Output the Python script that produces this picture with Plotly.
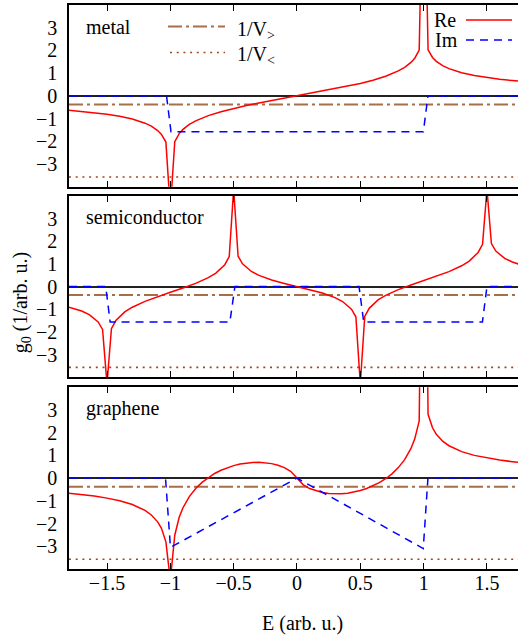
import plotly.graph_objects as go

# ---------------------------------------------------------------
# Local Green's function g0(E) for three model band structures
# ---------------------------------------------------------------

# metal: flat band between -1 and 1
E_metal = [-1.8, -1.7, -1.6, -1.5, -1.4, -1.3, -1.2, -1.15, -1.1, -1.07, -1.035, -1.0,
           -0.965, -0.93, -0.9, -0.85, -0.8, -0.7, -0.6, -0.5, -0.4, -0.3, -0.2, -0.1,
           0.0, 0.1, 0.2, 0.3, 0.4, 0.5, 0.6, 0.7, 0.8, 0.85, 0.9, 0.93, 0.965, 1.0,
           1.035, 1.07, 1.1, 1.15, 1.2, 1.3, 1.4, 1.5, 1.6, 1.7, 1.75]
re_metal = [-0.626, -0.675, -0.733, -0.805, -0.896, -1.018, -1.199, -1.331, -1.522, -1.693,
            -2.031, -5.0, -2.014, -1.658, -1.472, -1.256, -1.099, -0.867, -0.693, -0.549,
            -0.424, -0.310, -0.203, -0.100, 0.0, 0.100, 0.203, 0.310, 0.424, 0.549, 0.693,
            0.867, 1.099, 1.256, 1.472, 1.658, 2.014, 12.0, 2.031, 1.693, 1.522, 1.331,
            1.199, 1.018, 0.896, 0.805, 0.733, 0.675, 0.650]
E_im_metal = [-1.8, -1.03, -0.995, 0.998, 1.034, 1.75]
im_metal = [0.0, 0.0, -1.571, -1.571, 0.0, 0.0]

# semiconductor: two flat bands separated by a gap
E_semi = [-1.8, -1.75, -1.7, -1.64, -1.57, -1.535, -1.5, -1.465, -1.43, -1.36, -1.3, -1.2,
          -1.1, -1.0, -0.9, -0.8, -0.7, -0.64, -0.57, -0.535, -0.5, -0.465, -0.43, -0.36,
          -0.3, -0.2, -0.1, 0.0, 0.1, 0.2, 0.3, 0.36, 0.43, 0.465, 0.5, 0.535, 0.57, 0.64,
          0.7, 0.8, 0.9, 1.0, 1.1, 1.2, 1.3, 1.36, 1.43, 1.465, 1.5, 1.535, 1.57, 1.64,
          1.7, 1.75]
re_semi = [-0.913, -0.989, -1.083, -1.241, -1.561, -1.893, -4.3, -1.864, -1.502, -1.123,
           -0.914, -0.655, -0.446, -0.255, -0.067, 0.139, 0.390, 0.593, 0.963, 1.320, 4.3,
           1.337, 0.999, 0.663, 0.491, 0.289, 0.136, 0.0, -0.136, -0.289, -0.491, -0.663,
           -0.999, -1.337, -4.3, -1.320, -0.963, -0.593, -0.390, -0.139, 0.067, 0.255,
           0.446, 0.655, 0.914, 1.123, 1.502, 1.864, 4.3, 1.893, 1.561, 1.241, 1.083, 0.989]
E_im_semi = [-1.8, -1.51, -1.475, -0.53, -0.49, 0.49, 0.527, 1.464, 1.50, 1.75]
im_semi = [0.0, 0.0, -1.571, -1.571, 0.0, 0.0, -1.571, -1.571, 0.0, 0.0]

# graphene: linear density of states
E_gr = [-1.8, -1.7, -1.6, -1.5, -1.4, -1.3, -1.2, -1.15, -1.1, -1.07, -1.035, -1.0, -0.965,
        -0.93, -0.9, -0.85, -0.8, -0.75, -0.7, -0.65, -0.6, -0.55, -0.5, -0.45, -0.4, -0.35,
        -0.3, -0.25, -0.2, -0.15, -0.1, -0.05, 0.0, 0.05, 0.1, 0.15, 0.2, 0.25, 0.3, 0.35,
        0.4, 0.45, 0.5, 0.55, 0.6, 0.65, 0.7, 0.75, 0.8, 0.85, 0.9, 0.93, 0.965, 1.0, 1.035,
        1.07, 1.1, 1.15, 1.2, 1.3, 1.4, 1.5, 1.6, 1.7, 1.75]
re_gr = [-0.665, -0.722, -0.793, -0.882, -0.999, -1.165, -1.423, -1.623, -1.926, -2.212,
         -2.806, -4.5, -2.514, -1.727, -1.305, -0.813, -0.460, -0.188, 0.028, 0.203, 0.345,
         0.459, 0.549, 0.617, 0.663, 0.689, 0.694, 0.677, 0.636, 0.566, 0.460, 0.299, 0.0,
         -0.299, -0.460, -0.566, -0.636, -0.677, -0.694, -0.689, -0.663, -0.617, -0.549,
         -0.459, -0.345, -0.203, -0.028, 0.188, 0.460, 0.813, 1.305, 1.727, 2.514, 20.0,
         2.806, 2.212, 1.926, 1.623, 1.423, 1.165, 0.999, 0.882, 0.793, 0.722, 0.692]
E_im_gr = [-1.8, -1.038, -0.999, 0.0, 0.997, 1.034, 1.75]
im_gr = [0.0, 0.0, -3.05, 0.0, -3.1, 0.0, 0.0]

# inverse impurity potentials (horizontal reference levels)
inv_V_gt = -0.38
inv_V_lt = -3.57
E_span = [-1.8, 1.75]

panel_names = ["metal", "semiconductor", "graphene"]
panels = [
    (E_metal, re_metal, E_im_metal, im_metal),
    (E_semi, re_semi, E_im_semi, im_semi),
    (E_gr, re_gr, E_im_gr, im_gr),
]

x_ticks = [-1.5, -1, -0.5, 0, 0.5, 1, 1.5]
x_ticktext = ["−1.5", "−1", "−0.5", "0", "0.5", "1", "1.5"]
y_ticks = [-3, -2, -1, 0, 1, 2, 3]

# ---------------------------------------------------------------
# page geometry (pixels)
# ---------------------------------------------------------------
W, H = 518, 635
ML, MR, MT, MB = 69, 0, 4.5, 66
PW = W - ML - MR
PH = H - MT - MB
panel_px = [(4.5, 186.5), (195.5, 377.0), (387.0, 569.0)]
X_RANGE = [-1.8, 1.745]


def px_x(x):
    return (x - ML) / PW


def px_y(y):
    return (H - MB - y) / PH


FONT = "Liberation Serif, Times New Roman, Times, serif"
RED = "#ff0000"
BLUE = "#0000ff"
BROWN_DD = "#a86e48"
BROWN_DOT = "#a0471c"
DASH_DD = "14px,4px,3px,4px"
DASH_DOT = "2px,4.7px"
DASH_IM = "8px,6px"

fig = go.Figure()

for i, (Ere, yre, Eim, yim) in enumerate(panels):
    xa = "x" if i == 0 else f"x{i + 1}"
    ya = "y" if i == 0 else f"y{i + 1}"
    fig.add_trace(go.Scatter(x=E_span, y=[inv_V_gt, inv_V_gt], mode="lines",
                             line=dict(color=BROWN_DD, width=2, dash=DASH_DD),
                             xaxis=xa, yaxis=ya, showlegend=False, hoverinfo="skip"))
    fig.add_trace(go.Scatter(x=E_span, y=[inv_V_lt, inv_V_lt], mode="lines",
                             line=dict(color=BROWN_DOT, width=1.6, dash=DASH_DOT),
                             xaxis=xa, yaxis=ya, showlegend=False, hoverinfo="skip"))
    fig.add_trace(go.Scatter(x=Ere, y=yre, mode="lines",
                             line=dict(color=RED, width=1.5),
                             xaxis=xa, yaxis=ya, showlegend=False))
    fig.add_trace(go.Scatter(x=Eim, y=yim, mode="lines",
                             line=dict(color=BLUE, width=1.5, dash=DASH_IM),
                             xaxis=xa, yaxis=ya, showlegend=False))

# invisible carrier trace for the energy tick-label axis
fig.add_trace(go.Scatter(x=E_span, y=[0, 0], mode="lines", line=dict(width=0),
                         opacity=0, xaxis="x4", yaxis="y3", showlegend=False,
                         hoverinfo="skip"))

layout = dict(
    width=W, height=H,
    margin=dict(l=ML, r=MR, t=MT, b=MB, pad=0),
    paper_bgcolor="white", plot_bgcolor="white",
    font=dict(family=FONT, size=20, color="black"),
    showlegend=False,
)

for i, (top, bot) in enumerate(panel_px):
    xk = "xaxis" if i == 0 else f"xaxis{i + 1}"
    yk = "yaxis" if i == 0 else f"yaxis{i + 1}"
    ya = "y" if i == 0 else f"y{i + 1}"
    xa = "x" if i == 0 else f"x{i + 1}"
    layout[xk] = dict(
        domain=[0, 1], anchor=ya, range=X_RANGE,
        tickvals=x_ticks, showticklabels=False, ticks="inside", ticklen=6, tickwidth=1.2,
        tickcolor="black", showline=True, linecolor="black", linewidth=1.5,
        mirror="ticks", showgrid=False, zeroline=False,
    )
    layout[yk] = dict(
        domain=[max(0.0, px_y(bot)), px_y(top)], anchor=xa, range=[-4, 4],
        tickvals=y_ticks, ticks="", showline=True, linecolor="black", linewidth=1.5,
        mirror=False, showgrid=False, zeroline=True, zerolinecolor="#222222",
        zerolinewidth=1.5, tickfont=dict(family=FONT, size=20), ticklabelstandoff=6,
    )

# energy tick labels on a free axis at the bottom frame (no inward-tick offset)
layout["xaxis4"] = dict(
    overlaying="x3", anchor="free", position=0.0, range=X_RANGE,
    tickvals=x_ticks, ticktext=x_ticktext, ticks="", showline=False, showgrid=False,
    zeroline=False, tickfont=dict(family=FONT, size=20), ticklabelstandoff=0,
)

annotations = []
label_y = [27, 217, 408]
for name, yy in zip(panel_names, label_y):
    annotations.append(dict(text=name, x=px_x(84), y=px_y(yy), xref="paper", yref="paper",
                            xanchor="left", yanchor="middle", showarrow=False,
                            font=dict(family=FONT, size=20)))

annotations += [
    dict(text="1/V<sub>&gt;</sub>", x=px_x(235), y=px_y(30), xref="paper", yref="paper",
         xanchor="left", yanchor="middle", showarrow=False, font=dict(family=FONT, size=20)),
    dict(text="1/V<sub>&lt;</sub>", x=px_x(235), y=px_y(55), xref="paper", yref="paper",
         xanchor="left", yanchor="middle", showarrow=False, font=dict(family=FONT, size=20)),
    dict(text="Re", x=px_x(432), y=px_y(20), xref="paper", yref="paper",
         xanchor="left", yanchor="middle", showarrow=False, font=dict(family=FONT, size=20)),
    dict(text="Im", x=px_x(433), y=px_y(40), xref="paper", yref="paper",
         xanchor="left", yanchor="middle", showarrow=False, font=dict(family=FONT, size=20)),
    dict(text="E (arb. u.)", x=px_x(302), y=px_y(624), xref="paper", yref="paper",
         xanchor="center", yanchor="middle", showarrow=False, font=dict(family=FONT, size=20)),
    dict(text="g<sub>0</sub> (1/arb. u.)", x=px_x(21), y=px_y(303), xref="paper",
         yref="paper", xanchor="center", yanchor="middle", textangle=-90, showarrow=False,
         font=dict(family=FONT, size=20)),
]
layout["annotations"] = annotations

# key samples
shapes = [
    dict(type="line", xref="paper", yref="paper", x0=px_x(168), x1=px_x(225),
         y0=px_y(26), y1=px_y(26), line=dict(color=BROWN_DD, width=2, dash=DASH_DD)),
    dict(type="line", xref="paper", yref="paper", x0=px_x(170), x1=px_x(225),
         y0=px_y(52), y1=px_y(52), line=dict(color=BROWN_DOT, width=1.6, dash=DASH_DOT)),
    dict(type="line", xref="paper", yref="paper", x0=px_x(466), x1=px_x(512),
         y0=px_y(19.5), y1=px_y(19.5), line=dict(color=RED, width=1.5)),
    dict(type="line", xref="paper", yref="paper", x0=px_x(466), x1=px_x(512),
         y0=px_y(39.5), y1=px_y(39.5), line=dict(color=BLUE, width=1.5, dash=DASH_IM)),
]
layout["shapes"] = shapes

fig.update_layout(**layout)
fig.write_html("out.html")
